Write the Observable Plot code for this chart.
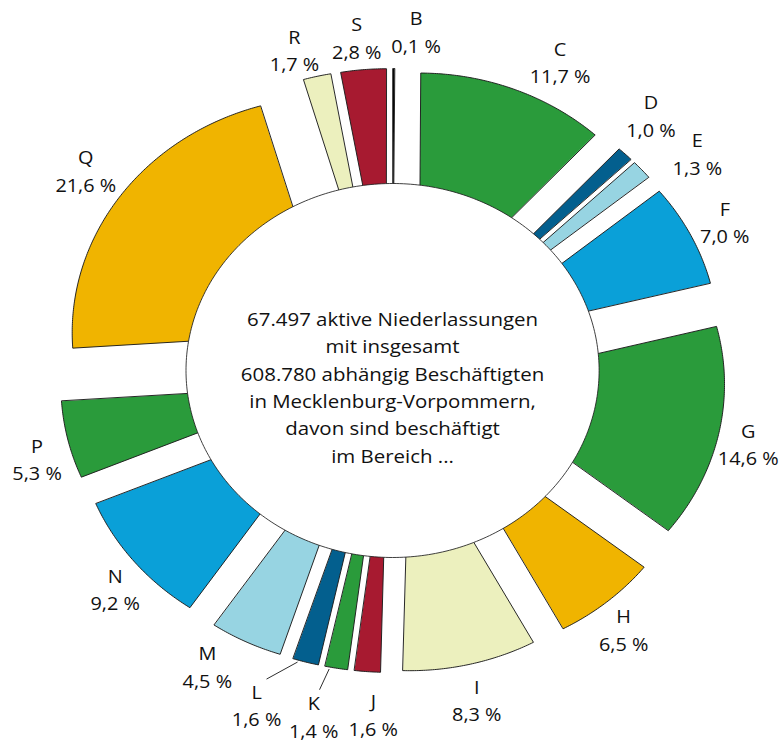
<!DOCTYPE html>
<html>
<head>
<meta charset="utf-8">
<script src="https://cdn.jsdelivr.net/npm/d3@7"></script>
<script src="https://cdn.jsdelivr.net/npm/@observablehq/plot@0.6"></script>
<style>
  html, body { margin: 0; padding: 0; background: #fff; }
  #chart { width: 782px; height: 742px; overflow: hidden; }
  #chart svg { transform-origin: 0 0; display: block; }
</style>
</head>
<body>
<div id="chart"></div>
<script>
// ---- data ----
const sections = ["B","C","D","E","F","G","H","I","J","K","L","M","N","P","Q","R","S"];
const shares   = [0.1, 11.7, 1.0, 1.3, 7.0, 14.6, 6.5, 8.3, 1.6, 1.4, 1.6, 4.5, 9.2, 5.3, 21.6, 1.7, 2.8];
const centerLines = [
  "67.497 aktive Niederlassungen",
  "mit insgesamt",
  "608.780 abhängig Beschäftigten",
  "in Mecklenburg-Vorpommern,",
  "davon sind beschäftigt",
  "im Bereich ..."
];

// ---- styles ----
const palette = [
  "#000000", // B
  "#2a9b3b", // C
  "#035f8e", // D
  "#97d4e2", // E
  "#0aa0d8", // F
  "#2a9b3b", // G
  "#f0b400", // H
  "#ecf0be", // I
  "#a71a30", // J
  "#2a9b3b", // K
  "#035f8e", // L
  "#97d4e2", // M
  "#0aa0d8", // N
  "#2a9b3b", // P
  "#f0b400", // Q
  "#ecf0be", // R
  "#a71a30"  // S
];
// label nudges relative to the slice bisector: [degrees, radius]
const labelNudge = {
  B: [3.4, 3], C: [4.7, 7], D: [-1.8, 9], E: [3.3, 14], F: [0.3, -2], G: [0.6, -8],
  H: [1, -6], I: [0.4, -1], J: [-1.4, 5], K: [2, 14], L: [5.2, 17], M: [3.6, 1],
  N: [-1.5, -6], P: [-1.9, -4.5], Q: [0.9, 5], R: [-2.3, -4], S: [-0.5, -2]
};
const withLeader = ["K", "L"];

// ---- layout (unstretched units; whole svg is stretched horizontally like the original) ----
const W = 708, H = 742, STRETCH = 782 / W;
const CX = 392 / STRETCH, CY = 370;
const R = 236, EXPLODE = 66, HOLE = 187, LABEL_R = 338;

const rad = a => a * Math.PI / 180;
const pt = (r, a) => [r * Math.sin(rad(a)), -r * Math.cos(rad(a))];

const total = d3.sum(shares);
let acc = 0;
const slices = sections.map((k, i) => {
  const a0 = acc / total * 360;
  acc += shares[i];
  const a1 = acc / total * 360;
  return {k, share: shares[i], a0, a1, m: (a0 + a1) / 2};
});

// wedge outlines (exploded pie slices)
const sliceRows = [];
for (const s of slices) {
  const [ox, oy] = pt(EXPLODE, s.m);
  sliceRows.push({k: s.k, x: ox, y: oy});
  const n = Math.max(2, Math.ceil((s.a1 - s.a0) / 0.5));
  for (let j = 0; j <= n; j++) {
    const a = s.a0 + (s.a1 - s.a0) * j / n;
    const [px, py] = pt(R, a);
    sliceRows.push({k: s.k, x: ox + px, y: oy + py});
  }
}

// hole
const holeRows = d3.range(0, 360, 1).map(a => { const [x, y] = pt(HOLE, a); return {x, y}; });

// labels
const labelRows = slices.map(s => {
  const [da, dr] = labelNudge[s.k] || [0, 0];
  const a = s.m + da, r = LABEL_R + dr;
  const [x, y] = pt(r, a);
  return {k: s.k, text: s.k + "\n" + s.share.toFixed(1).replace(".", ",") + " %", x, y, a, r};
});

// leader lines
const leaderRows = slices.filter(s => withLeader.includes(s.k)).map(s => {
  const lab = labelRows.find(l => l.k === s.k);
  const [x1, y1] = pt(lab.r - 26, lab.a);
  const [ox, oy] = pt(EXPLODE, s.m);
  const [px, py] = pt(R + 2, s.m + 0.6 * (s.a1 - s.m));
  return {x1, y1, x2: ox + px, y2: oy + py};
});

const chart = Plot.plot({
  width: W,
  height: H,
  margin: 0,
  x: {domain: [-CX, W - CX], range: [0, W], axis: null},
  y: {domain: [-CY, H - CY], range: [0, H], axis: null},
  color: {domain: sections, range: palette},
  style: {fontFamily: "'Open Sans', sans-serif", fontSize: "18px", background: "#fff", color: "#111", overflow: "visible"},
  marks: [
    Plot.line(sliceRows, {x: "x", y: "y", z: "k", fill: "k", stroke: "#1c1c1c", strokeWidth: 0.9, curve: "linear-closed"}),
    Plot.line(holeRows, {x: "x", y: "y", fill: "#fff", stroke: "#1c1c1c", strokeWidth: 0.8, curve: "linear-closed"}),
    Plot.link(leaderRows, {x1: "x1", y1: "y1", x2: "x2", y2: "y2", stroke: "#222", strokeWidth: 0.9}),
    Plot.text(labelRows, {x: "x", y: "y", text: "text", fontSize: 18, lineHeight: 1.53, fill: "#111"}),
    Plot.text([{x: 0, y: 0, t: centerLines.join("\n")}], {x: "x", y: "y", text: "t", dy: 15, fontSize: 18.5, lineHeight: 1.48, fill: "#111"})
  ]
});
chart.style.transform = `scaleX(${STRETCH})`;
document.getElementById("chart").appendChild(chart);
</script>
</body>
</html>
